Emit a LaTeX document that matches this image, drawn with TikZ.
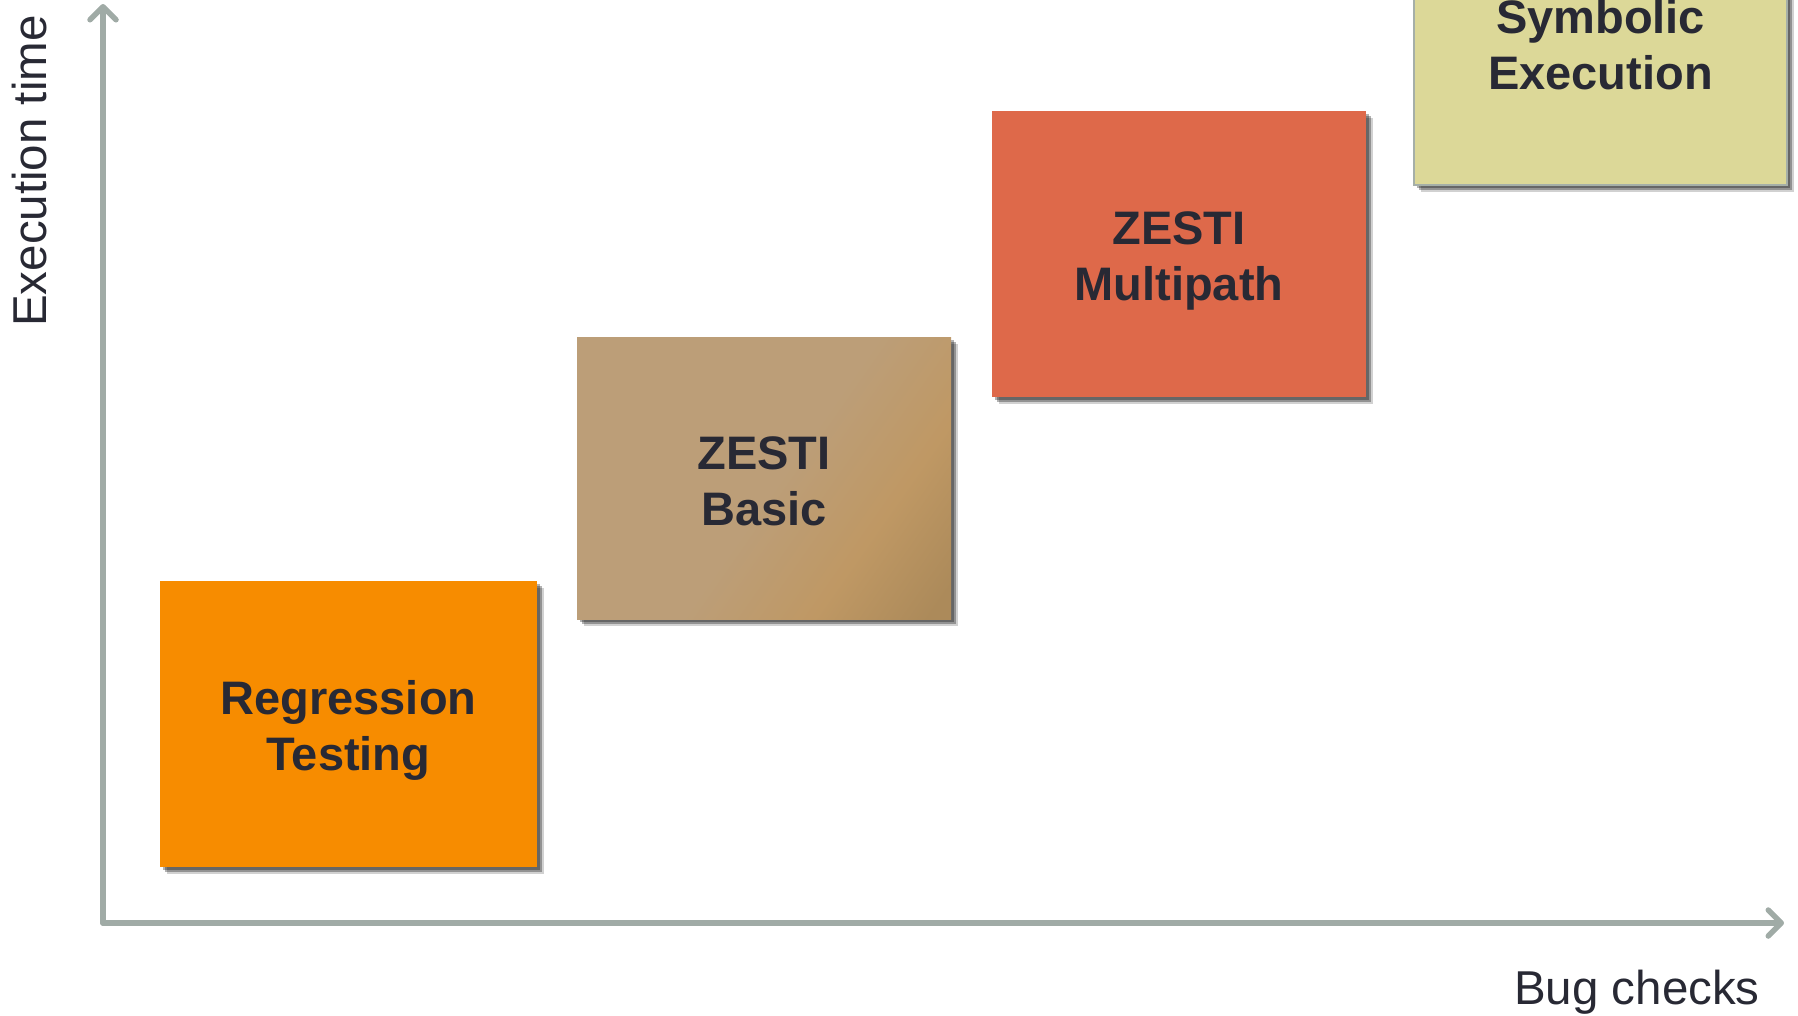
\documentclass[tikz,border=0pt]{standalone}
\usepackage{fontspec}
\setmainfont{Liberation Sans}
\usetikzlibrary{arrows.meta,shadows}
\definecolor{axisc}{RGB}{160,171,166}
\definecolor{txtc}{RGB}{40,41,52}
\definecolor{regc}{RGB}{247,140,0}
\definecolor{zb1}{RGB}{188,158,120}
\definecolor{zb2}{RGB}{191,152,100}
\definecolor{zb3}{RGB}{172,138,90}
\definecolor{zmc}{RGB}{222,105,74}
\definecolor{symc}{RGB}{220,216,152}
\definecolor{symb}{RGB}{165,175,168}
\pgfdeclarehorizontalshading{zbasic}{100bp}{color(0bp)=(zb1); color(52bp)=(zb1); color(68bp)=(zb2); color(82bp)=(zb3); color(100bp)=(zb3)}
\begin{document}
\begin{tikzpicture}[x=1pt,y=-1pt,
  box/.style={rectangle, inner sep=0pt,
    drop shadow={shadow xshift=7pt, shadow yshift=-7pt, opacity=0.18, fill=black},
    drop shadow={shadow xshift=5pt, shadow yshift=-5pt, opacity=0.3, fill=black},
    drop shadow={shadow xshift=3pt, shadow yshift=-3pt, opacity=0.3, fill=black}},
  boxtxt/.style={inner sep=0pt, align=center, text=txtc,
    font=\bfseries\fontsize{47}{56}\selectfont},
  axis/.style={line width=5.5pt, draw=axisc, line cap=round,
    -{Straight Barb[length=13pt,width=26pt,line cap=round,line join=round]}},
  lab/.style={text=txtc, font=\fontsize{47.5}{56}\selectfont, inner sep=0pt}]
\useasboundingbox (0,0) rectangle (1798,1015);
\coordinate (o) at (103,923);
\coordinate (ytop) at (103,4);
\coordinate (xend) at (1784,923);
\draw[axis] (o) -- (ytop);
\draw[axis] (o) -- (xend);
\node[box, fill=regc, minimum width=377pt, minimum height=286pt] (reg) at (348.5,724) {};
\node[box, shading=zbasic, shading angle=-35, minimum width=374pt, minimum height=282pt] (zb) at (764,478) {};
\node[box, fill=zmc, minimum width=374pt, minimum height=286pt] (zm) at (1179,254) {};
\node[box, fill=symc, draw=symb, line width=1.5pt, minimum width=373pt, minimum height=286pt] (sym) at (1600.5,42) {};
\node[boxtxt] (regt) at ([yshift=-6pt]reg.center) {Regression\\Testing};
\node[boxtxt] (zbt) at ([yshift=-3pt]zb.center) {ZESTI\\Basic};
\node[boxtxt] (zmt) at ([yshift=-7pt]zm.center) {ZESTI\\Multipath};
\node[boxtxt] (symt) at ([yshift=-3pt]sym.center) {Symbolic\\Execution};
\node[lab, rotate=90, anchor=base] (ylab) at (46,171) {Execution time};
\node[lab, anchor=base] (xlab) at (1637,1004) {Bug checks};
\end{tikzpicture}
\end{document}
